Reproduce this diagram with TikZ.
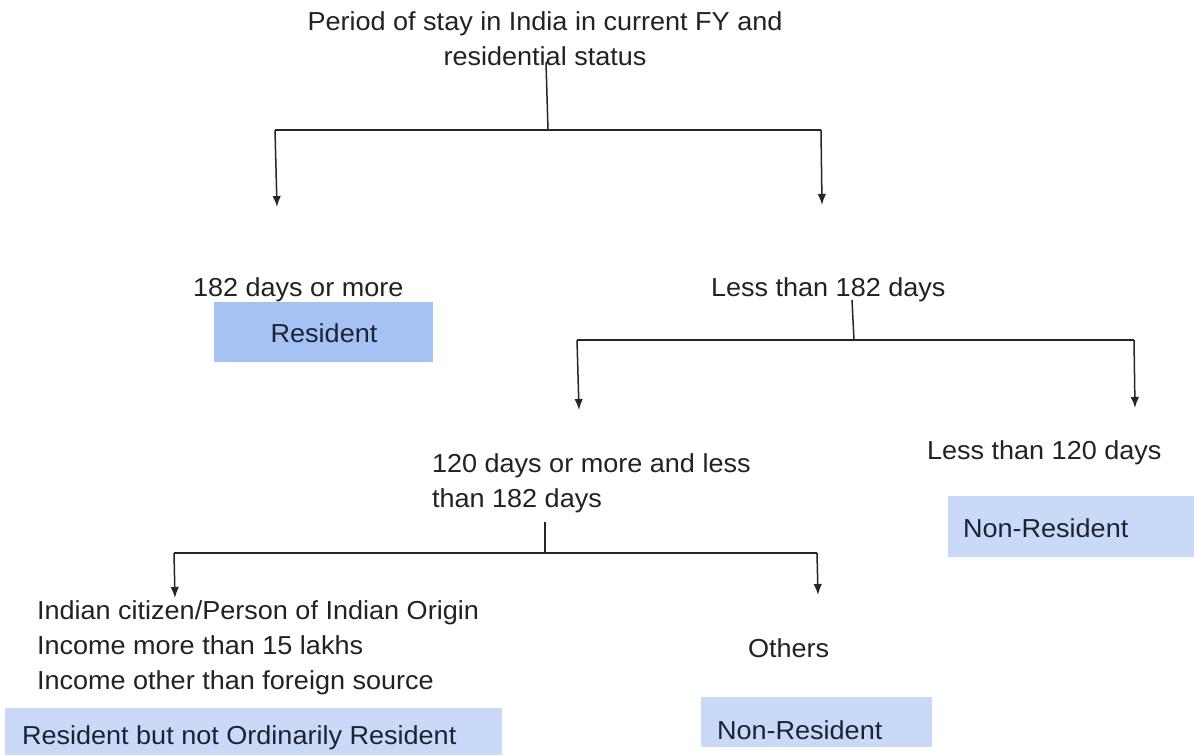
\documentclass[tikz,border=0pt]{standalone}
\usepackage{fontspec}
\setmainfont{Liberation Sans}[FakeStretch=1.04]
\usetikzlibrary{arrows.meta}
\definecolor{boxA}{HTML}{A4C2F4}
\definecolor{boxB}{HTML}{C9DAF8}
\definecolor{txt}{HTML}{222222}
\definecolor{boxtxt}{HTML}{1C2433}
\tikzset{
  lbl/.style={inner sep=0pt, outer sep=0pt, text=txt, font=\fontsize{13}{17.5}\selectfont},
  boxlbl/.style={inner sep=0pt, outer sep=0pt, text=boxtxt, font=\fontsize{13}{17}\selectfont},
  conn/.style={line width=0.75pt, draw=black!85},
  arr/.style={conn, -{Latex[length=5.5pt,width=4.2pt]}},
}
\begin{document}
\begin{tikzpicture}[x=0.5pt,y=-0.5pt]
\useasboundingbox[fill=white] (0,0) rectangle (1194,755);
% title
\node[lbl, align=center] (title) at (545,39) {Period of stay in India in current FY and\\residential status};
\coordinate (j1) at (548,130);
\coordinate (j1l) at (275,130);
\coordinate (j1r) at (821,130);
\coordinate (t1l) at (277,207);
\coordinate (t1r) at (822,205);
\draw[conn] (546,62) -- (j1);
\draw[conn] (j1l) -- (j1r);
\draw[arr] (j1l) -- (t1l);
\draw[arr] (j1r) -- (t1r);
% level 2
\node[lbl, anchor=west] (d182) at (193,290) {182 days or more};
\fill[boxA] (214,302) rectangle (433,362);
\node[boxlbl] (res) at (324,333) {Resident};
\node[lbl, anchor=west] (lt182) at (711,290) {Less than 182 days};
\coordinate (j2) at (854,340);
\coordinate (j2l) at (577,340);
\coordinate (j2r) at (1134,340);
\coordinate (t2l) at (579,410);
\coordinate (t2r) at (1135,408);
\draw[conn] (852,300) -- (j2);
\draw[conn] (j2l) -- (j2r);
\draw[arr] (j2l) -- (t2l);
\draw[arr] (j2r) -- (t2r);
% level 3
\node[lbl, anchor=north west, align=left] (mid) at (432,454) {120 days or more and less\\than 182 days};
\node[lbl, anchor=west] (lt120) at (927,453) {Less than 120 days};
\fill[boxB] (948,496) rectangle (1194,557);
\node[boxlbl, anchor=west] (nr1) at (963,528) {Non-Resident};
\coordinate (j3) at (545,553);
\coordinate (j3l) at (174,553);
\coordinate (j3r) at (817,553);
\coordinate (t3l) at (175,598);
\coordinate (t3r) at (818,595);
\draw[conn] (545,522) -- (j3);
\draw[conn] (j3l) -- (j3r);
\draw[arr] (j3l) -- (t3l);
\draw[arr] (j3r) -- (t3r);
% level 4
\node[lbl, anchor=north west, align=left] (cond) at (37,601) {Indian citizen/Person of Indian Origin\\Income more than 15 lakhs\\Income other than foreign source};
\node[lbl, anchor=west] (oth) at (748,648) {Others};
\fill[boxB] (5,708) rectangle (502,755);
\node[boxlbl, anchor=west] (rnor) at (22,738) {Resident but not Ordinarily Resident};
\fill[boxB] (701,697) rectangle (932,747);
\node[boxlbl, anchor=west] (nr2) at (717,730) {Non-Resident};
\end{tikzpicture}
\end{document}
